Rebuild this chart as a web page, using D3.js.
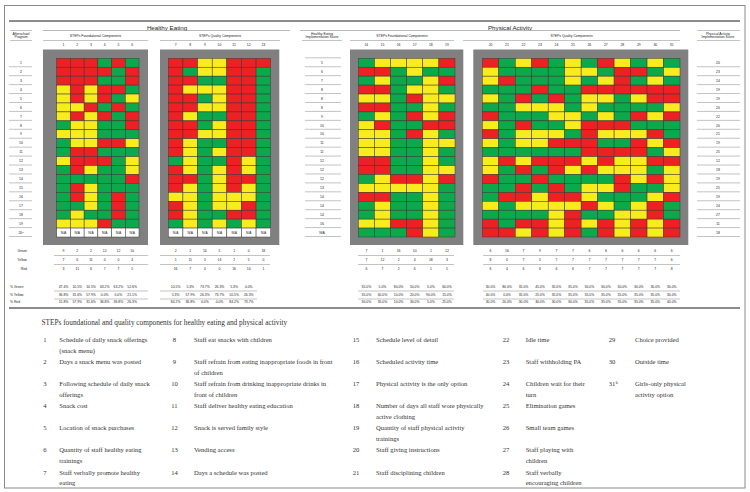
<!DOCTYPE html>
<html lang="en">
<head>
<meta charset="utf-8">
<title>STEPs components heat map</title>
<script src="https://cdnjs.cloudflare.com/ajax/libs/d3/7.8.5/d3.min.js"></script>
<style>
  body { margin: 0; background: #fff; }
  svg text { font-family: "Liberation Sans", Arial, sans-serif; fill: #222; }
  svg text.serif { font-family: "Liberation Serif", "Times New Roman", serif; fill: #333; }
</style>
</head>
<body>
<div id="chart"></div>
<script>

// ---- data ----
const rowIds = ["1","2","3","4","5","6","7","8","9","10","11","12","13","14","15","16","17","18","19","20^a"];
const heScores = ["5","6","7","8","8","8","9","10","10","11","11","12","12","12","13","14","14","14","16","N/A"];
const paScores = ["20","23","24","19","19","20","22","20","21","19","25","12","18","19","25","19","24","27","11","18"];

const heFoundCols = ["1","2","3","4","5","6"];
const heQualCols = ["7","8","9","10","11","12","13"];
const paFoundCols = ["14","15","16","17","18","19"];
const paQualCols = ["20","21","22","23","24","25","26","27","28","29","30","31"];

// G = green, Y = yellow, R = red, N = N/A
const heFoundation = [
  "RRRGRG","RRRRGR","RRRGGR","YRYRRG","YRYRGY","YYRGRG","YRYRGR","GYYGGR","YYYGGG","GYYRRY",
  "GRRGGG","YRRRGY","GRYGGY","GGGGGR","GRYGGG","GRYGRG","GGYGRG","GYGGRG","YYYRGG","NNNNNN"];
const heQuality = [
  "RRYYRRR","RGYYRRG","RRGGRRG","RYYYRRG","RRGYRRG","RRYYRRG","RYGGRRG","RRGYRRG","RRYYRRG","RYGGRRG",
  "RYGYRRG","GYGGRYG","RYGYRYG","RRGYRRG","RYGYRYG","YYGYYYG","RYGYYRG","RYGGRRG","GYGYGYG","NNNNNNN"];
const paFoundation = [
  "GYYYYR","RRGYGG","GYGGYR","RRGYYG","YYGRYY","RRGGYG","GYGRYR","YRGGRR","YYGRYG","YYGGYY",
  "YYGGYG","RRGGYG","RRGGYY","GYRRYR","YYYYYG","RRGGYG","GYGGYG","GYGGYG","YYRRYG","GGGRYG"];
const paQuality = [
  "RGYRGYGRYGYG","YGGGGYYGRRGY","YRGGGYGYRGYG","GGGRGGRRRRRR","YGRGRGYYGYRR",
  "GGYYYGYGGGGY","RGGGYYGYGRYR","YGRGGYRRRGGG","RGYYYGRYYYRG","YGYYRRRGGRYR",
  "GGGGGGRRRRGY","YRYRRRYRYYRR","YGRGRYRYYYGY","RGGRGGGGRYRY","GGRGRGYYRGGY",
  "GRRYRRYGGGYR","YGYYYYRYGYRG","GGGGYRGGYYRG","RGRRYRYRYRYR","RRYRYRGRYRYR"];

const pctHidden = ["13"];

const components = [
  ["1", ["Schedule of daily snack offerings", "(snack menu)"]],
  ["2", ["Days a snack menu was posted"]],
  ["3", ["Following schedule of daily snack", "offerings"]],
  ["4", ["Snack cost"]],
  ["5", ["Location of snack purchases"]],
  ["6", ["Quantity of staff healthy eating", "trainings"]],
  ["7", ["Staff verbally promote healthy", "eating"]],
  ["8", ["Staff eat snacks with children"]],
  ["9", ["Staff refrain from eating inappropriate foods in front", "of children"]],
  ["10", ["Staff refrain from drinking inappropriate drinks in", "front of children"]],
  ["11", ["Staff deliver healthy eating education"]],
  ["12", ["Snack is served family style"]],
  ["13", ["Vending access"]],
  ["14", ["Days a schedule was posted"]],
  ["15", ["Schedule level of detail"]],
  ["16", ["Scheduled activity time"]],
  ["17", ["Physical activity is the only option"]],
  ["18", ["Number of days all staff wore physically", "active clothing"]],
  ["19", ["Quantity of staff physical activity", "trainings"]],
  ["20", ["Staff giving instructions"]],
  ["21", ["Staff disciplining children"]],
  ["22", ["Idle time"]],
  ["23", ["Staff withholding PA"]],
  ["24", ["Children wait for their", "turn"]],
  ["25", ["Elimination games"]],
  ["26", ["Small team games"]],
  ["27", ["Staff playing with", "children"]],
  ["28", ["Staff verbally", "encouraging children"]],
  ["29", ["Choice provided"]],
  ["30", ["Outside time"]],
  ["31^b", ["Girls-only physical", "activity option"]]
];

// ---- layout ----
const colors = {G: "#0ca84c", Y: "#f9ec1c", R: "#ed2024", N: "#ffffff"};

const svg = d3.select("#chart").append("svg")
  .attr("width", 750).attr("height", 492);

svg.append("rect")
  .attr("x", 4.5).attr("y", 5.5).attr("width", 740.5).attr("height", 482.5)
  .attr("fill", "none").attr("stroke", "#8a8a8a");

function hline(x0, x1, y, w, c) {
  svg.append("line").attr("x1", x0).attr("x2", x1).attr("y1", y).attr("y2", y)
    .attr("stroke", c || "#9a9a9a").attr("stroke-width", w || 0.6);
}
function label(x, y, txt, size, anchor) {
  const t = svg.append("text").attr("x", x).attr("y", y)
    .attr("font-size", size).attr("text-anchor", anchor || "middle");
  const parts = txt.split("^");
  t.append("tspan").text(parts[0]);
  if (parts[1]) t.append("tspan").attr("font-size", size * 0.65).attr("dy", -size * 0.35).text(parts[1]);
  return t;
}

const y = d3.scaleBand().domain(d3.range(20)).range([58.3, 237]);

// header
hline(9, 740, 21, 1.3, "#666");
label(167, 29.5, "Healthy Eating", 6.2);
label(510, 29.5, "Physical Activity", 6.2);
hline(43, 290, 30.5, 0.7);
hline(300, 680, 30.5, 0.7);
hline(10, 32, 30.5); hline(10, 32, 40.5);
label(21, 34.5, "Afterschool", 3.4); label(21, 38.3, "Program", 3.4);
hline(302, 342, 40.5);
label(322, 34.5, "Healthy Eating", 3.4); label(322, 38.3, "Implementation Score", 3.4);
hline(697, 740, 30.5); hline(697, 740, 40.5);
label(718, 34.5, "Physical Activity", 3.4); label(718, 38.3, "Implementation Score", 3.4);

const sections = [
  {title: "STEPs Foundational Components", cols: heFoundCols, rows: heFoundation,
   x: [56.7, 139], panel: [43, 148], head: [43, 148], line: [54, 148]},
  {title: "STEPs Quality Components", cols: heQualCols, rows: heQuality,
   x: [168.3, 270.7], panel: [160, 279.3], head: [160, 280], line: [160, 270], pctLine: [160, 257]},
  {title: "STEPs Foundational Components", cols: paFoundCols, rows: paFoundation,
   x: [358.3, 455], panel: [350, 463.3], head: [350, 454], line: [358, 454]},
  {title: "STEPs Quality Components", cols: paQualCols, rows: paQuality,
   x: [482.3, 680], panel: [473.3, 688.3], head: [463, 680], line: [483, 680]}
];

const countY = [252, 261, 270];
const pctY = [288, 296, 303];
const keys = ["G", "Y", "R"];
const fmt = d3.format(".1%");

sections.forEach(sec => {
  const x = d3.scaleBand().domain(sec.cols).range(sec.x);
  const mid = (sec.head[0] + sec.head[1]) / 2;
  label(mid, 36.5, sec.title, 3.4);
  hline(sec.head[0], sec.head[1], 40.5);

  const g = svg.append("g");
  g.append("rect")
    .attr("x", sec.panel[0]).attr("y", 49.5)
    .attr("width", sec.panel[1] - sec.panel[0]).attr("height", 195.5)
    .attr("fill", "#808080");

  g.selectAll("text.col").data(sec.cols).join("text")
    .attr("x", d => x(d) + x.bandwidth() / 2).attr("y", 45.5)
    .attr("text-anchor", "middle").attr("font-size", 3.4).text(d => d);

  const cells = [];
  sec.rows.forEach((row, r) => row.split("").forEach((v, c) => cells.push({r, c: sec.cols[c], v})));

  g.selectAll("rect.cell").data(cells).join("rect")
    .attr("x", d => x(d.c)).attr("y", d => y(d.r))
    .attr("width", x.bandwidth()).attr("height", y.bandwidth())
    .attr("fill", d => colors[d.v])
    .attr("stroke", "#3a3a3a").attr("stroke-width", 0.5);

  g.selectAll("text.na").data(cells.filter(d => d.v === "N")).join("text")
    .attr("x", d => x(d.c) + x.bandwidth() / 2).attr("y", d => y(d.r) + y.bandwidth() / 2 + 1.2)
    .attr("text-anchor", "middle").attr("font-size", 3.3).text("N/A");

  // summary table
  const valid = sec.rows.filter(r => !r.includes("N")).length;
  keys.forEach((k, i) => {
    const counts = sec.cols.map((c, j) => ({c, n: sec.rows.filter(r => r[j] === k).length}));
    g.selectAll("text.cnt" + k).data(counts).join("text")
      .attr("x", d => x(d.c) + x.bandwidth() / 2).attr("y", countY[i])
      .attr("text-anchor", "middle").attr("font-size", 3.4).text(d => d.n);
    g.selectAll("text.pct" + k).data(counts.filter(d => !pctHidden.includes(d.c))).join("text")
      .attr("x", d => x(d.c) + x.bandwidth() / 2).attr("y", pctY[i])
      .attr("text-anchor", "middle").attr("font-size", 3.4).text(d => fmt(d.n / valid));
  });
  const pl = sec.pctLine || sec.line;
  hline(sec.line[0], sec.line[1], 255.5);
  hline(sec.line[0], sec.line[1], 264.5);
  hline(pl[0], pl[1], 291);
  hline(pl[0], pl[1], 299);
});

// row label columns
rowIds.forEach((t, r) => {
  label(21, y(r) + y.bandwidth() / 2 + 1.2, t, 3.4);
  hline(9, 32, y(r) + y.bandwidth() - 0.5);
});
hline(305, 341, y(0) - 0.5);
heScores.forEach((t, r) => {
  label(322, y(r) + y.bandwidth() / 2 + 1.2, t, 3.4);
  hline(305, 341, y(r) + y.bandwidth() - 0.5);
});
paScores.forEach((t, r) => {
  label(718, y(r) + y.bandwidth() / 2 + 1.2, t, 3.4);
  hline(697, 740, y(r) + y.bandwidth() - 0.5);
});

["Green", "Yellow", "Red"].forEach((t, i) => label(27, countY[i], t, 3.4, "end"));
["% Green", "% Yellow", "% Red"].forEach((t, i) => label(9, pctY[i], "\u00a0" + t, 3.4, "start"));

hline(9, 740, 308, 1.3, "#666");

// legend
svg.append("text").attr("class", "serif")
  .attr("x", 41.5).attr("y", 325.3).attr("font-size", 7.3)
  .text("STEPs foundational and quality components for healthy eating and physical activity");

const numX = [45, 174.5, 356, 506, 612];
const textX = [59.3, 194, 376, 525.7, 635];
const rowY = d3.scaleLinear().domain([0, 6]).range([342.3, 474.5]);

components.forEach((d, i) => {
  const col = Math.floor(i / 7), row = i % 7;
  const parts = d[0].split("^");
  const n = svg.append("text").attr("class", "serif")
    .attr("x", numX[col]).attr("y", rowY(row)).attr("font-size", 6.6)
    .attr("text-anchor", "middle").text(parts[0]);
  if (parts[1]) {
    svg.append("text").attr("class", "serif")
      .attr("x", numX[col] + 3.8).attr("y", rowY(row) - 2.4).attr("font-size", 4.2).text(parts[1]);
  }
  d[1].forEach((line, k) => {
    svg.append("text").attr("class", "serif")
      .attr("x", textX[col]).attr("y", rowY(row) + k * 10.6).attr("font-size", 6.6)
      .text(line);
  });
});

</script>
</body>
</html>
